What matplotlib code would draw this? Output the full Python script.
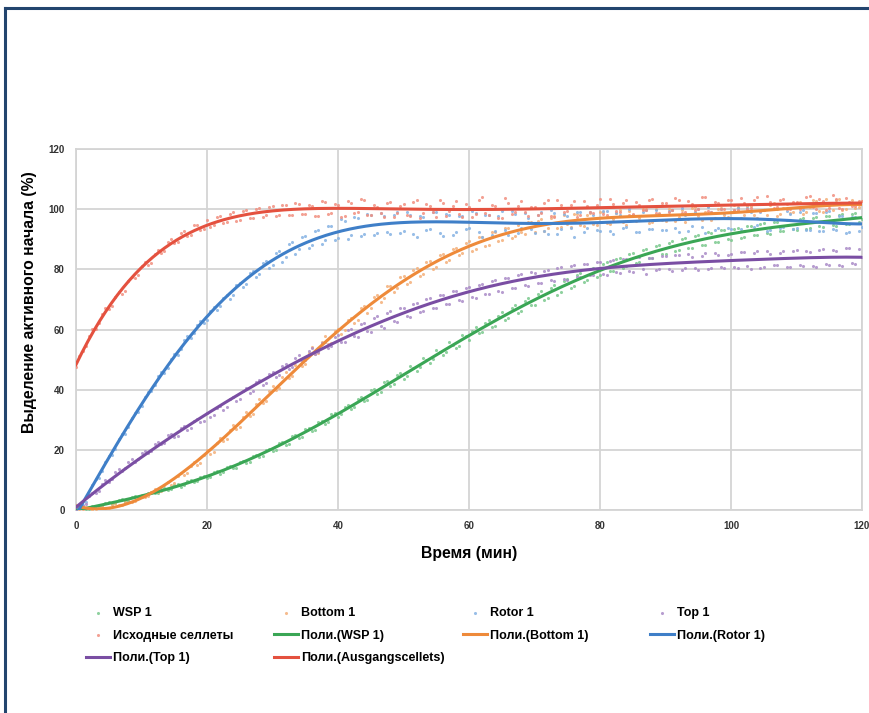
import numpy as np
import matplotlib
matplotlib.use("Agg")
import matplotlib.pyplot as plt
from matplotlib.lines import Line2D

plt.rcParams['font.family'] = ['Liberation Sans', 'DejaVu Sans']

# ---------------- data ----------------
time_min = np.arange(0, 121, 1)          # readings on the full minute
time_half = np.arange(0.5, 120, 1)       # readings on the half minute

wsp1 = [
    0.1, 0.5, 0.4, 1.4, 1.2, 2.5, 2.2, 3.6, 3.0, 4.6,
    4.2, 5.8, 5.5, 6.9, 6.7, 8.2, 7.8, 9.7, 9.3, 11.1,
    10.6, 12.6, 12.1, 14.3, 13.8, 16.1, 15.6, 18.1, 17.5, 20.1,
    19.5, 22.3, 21.6, 24.6, 23.8, 26.9, 26.2, 29.3, 28.5, 31.8,
    30.9, 34.4, 33.6, 37.0, 36.3, 39.8, 38.5, 42.5, 41.1, 45.0,
    43.6, 47.9, 46.3, 50.6, 48.8, 53.3, 51.5, 55.8, 53.9, 58.2,
    56.6, 60.8, 59.1, 63.2, 61.0, 65.9, 63.7, 68.1, 66.2, 70.6,
    68.1, 72.8, 70.4, 74.9, 72.3, 76.8, 74.6, 78.9, 76.4, 80.5,
    78.1, 82.3, 79.6, 83.9, 81.2, 85.3, 82.6, 86.8, 83.9, 88.0,
    85.1, 89.3, 86.4, 90.4, 87.2, 91.5, 88.1, 92.2, 89.0, 93.0,
    89.8, 93.8, 90.6, 94.5, 91.4, 95.3, 91.9, 95.8, 92.6, 96.4,
    93.0, 96.9, 93.6, 97.4, 94.0, 97.8, 94.5, 98.3, 95.0, 98.6, 96.8,
]
wsp1_half = [
    0.6, 0.2, 1.3, 0.9, 2.3, 1.9, 3.3, 2.6, 4.4, 4.0,
    4.6, 6.0, 5.8, 7.3, 6.9, 8.5, 8.2, 10.0, 9.6, 11.4,
    11.0, 12.9, 12.6, 14.6, 14.1, 16.4, 16.0, 18.3, 18.1, 20.4,
    20.0, 22.6, 22.1, 24.9, 24.4, 27.3, 26.7, 29.6, 29.3, 32.2,
    31.8, 34.8, 34.2, 37.6, 36.7, 40.2, 39.1, 42.9, 41.8, 45.6,
    44.5, 47.1, 47.6, 49.8, 50.2, 52.5, 52.6, 54.9, 54.6, 57.8,
    59.6, 58.7, 62.3, 60.9, 64.5, 63.0, 67.1, 65.6, 69.4, 68.1,
    71.8, 69.9, 73.9, 71.6, 76.0, 73.8, 78.1, 75.9, 80.0, 77.6,
    81.7, 79.3, 83.4, 80.6, 85.0, 82.0, 86.5, 83.7, 87.9, 85.0,
    88.9, 86.0, 90.1, 87.0, 91.2, 88.1, 92.3, 89.2, 93.0, 90.0,
    93.4, 90.4, 94.3, 91.5, 95.0, 92.2, 95.8, 92.9, 96.3, 93.4,
    96.6, 93.5, 97.2, 94.3, 97.6, 94.8, 98.2, 95.1, 98.4, 95.7,
]

bottom1 = [
    0.6, -0.2, 0.9, 0.2, 1.4, 0.8, 2.3, 1.7, 3.5, 3.0,
    5.0, 4.6, 6.9, 6.4, 9.2, 9.0, 12.4, 12.3, 15.9, 15.7,
    19.8, 19.4, 24.0, 23.5, 28.1, 27.6, 32.5, 32.0, 37.0, 36.2,
    41.3, 40.6, 45.9, 44.7, 50.0, 48.4, 54.1, 52.2, 57.9, 55.6,
    60.2, 59.8, 63.9, 63.1, 67.8, 67.2, 71.4, 70.6, 74.5, 73.9,
    77.8, 75.9, 80.3, 78.6, 82.7, 80.9, 85.1, 83.2, 87.2, 85.5,
    89.4, 86.9, 90.8, 88.2, 92.5, 89.6, 93.8, 91.0, 92.4, 95.6,
    92.3, 96.7, 93.8, 97.6, 94.0, 95.1, 98.3, 94.6, 97.9, 95.2,
    98.9, 95.4, 96.8, 99.6, 94.9, 98.2, 97.1, 100.0, 95.6, 98.8,
    96.1, 99.7, 97.4, 95.8, 100.4, 97.6, 99.1, 96.3, 100.2, 97.9,
    96.9, 100.6, 98.2, 101.1, 97.0, 99.7, 101.5, 97.8, 100.3, 98.6,
    101.9, 98.4, 100.7, 102.6, 99.0, 101.3, 103.0, 99.6, 102.1, 100.4, 102.8,
]
bottom1_half = [
    -0.3, 0.6, 0.1, 1.1, 0.6, 1.9, 1.5, 3.0, 2.7, 4.4,
    4.3, 6.1, 6.1, 8.3, 8.4, 11.2, 11.5, 14.6, 15.0, 18.3,
    18.7, 22.4, 22.8, 26.6, 26.8, 31.0, 31.2, 35.4, 35.5, 39.7,
    39.9, 44.1, 44.0, 48.3, 47.9, 52.3, 51.7, 56.0, 55.2, 59.6,
    58.4, 63.2, 62.0, 67.1, 65.6, 70.9, 69.0, 74.3, 72.4, 77.4,
    75.2, 79.9, 77.8, 82.6, 80.1, 84.9, 82.5, 86.9, 84.6, 88.9,
    86.1, 90.6, 87.9, 92.4, 89.4, 93.7, 90.5, 94.8, 91.6, 95.7,
    96.2, 92.8, 97.1, 93.6, 97.9, 94.0, 98.3, 94.4, 98.7, 94.9,
    99.0, 95.1, 98.6, 95.7, 99.5, 96.0, 99.9, 95.5, 100.1, 96.3,
    100.2, 96.0, 99.6, 96.8, 100.8, 96.4, 101.0, 97.1, 100.5, 97.5,
    101.3, 97.2, 100.9, 97.9, 101.8, 98.1, 102.0, 98.5, 101.6, 98.9,
    102.4, 99.0, 102.9, 99.4, 103.3, 99.8, 103.5, 100.2, 103.1, 100.6,
]

rotor1 = [
    0.3, 1.8, 5.0, 10.2, 13.0, 17.8, 20.4, 25.3, 27.5, 32.4,
    34.6, 39.3, 41.4, 45.8, 47.2, 51.9, 53.6, 57.8, 58.9, 62.9,
    63.1, 67.6, 67.8, 71.6, 71.6, 75.6, 75.2, 79.5, 78.6, 82.9,
    81.4, 86.2, 84.1, 89.0, 86.6, 91.1, 88.2, 93.0, 89.6, 94.3,
    90.4, 96.1, 91.5, 97.2, 91.9, 98.0, 92.0, 97.8, 91.6, 99.0,
    92.8, 98.2, 90.6, 97.4, 93.5, 99.1, 91.2, 98.0, 92.4, 97.6,
    93.6, 98.8, 90.9, 97.9, 92.7, 99.5, 91.4, 98.3, 93.9, 97.0,
    92.2, 99.0, 91.8, 98.6, 93.3, 97.7, 90.8, 99.2, 93.7, 98.1,
    92.9, 99.4, 91.6, 98.2, 94.0, 97.9, 92.3, 99.6, 93.4, 98.5,
    93.1, 99.8, 92.5, 98.0, 94.4, 100.1, 92.0, 99.0, 93.8, 98.7,
    93.5, 100.3, 92.8, 99.2, 94.6, 99.6, 93.0, 100.0, 94.2, 98.4,
    93.9, 99.7, 93.2, 98.8, 92.6, 99.4, 93.0, 97.6, 92.4, 97.3, 94.0,
]
rotor1_half = [
    1.2, 2.8, 8.3, 10.8, 16.1, 18.2, 23.6, 25.4, 30.5, 32.6,
    37.5, 39.4, 44.4, 45.7, 50.3, 51.6, 56.4, 57.3, 61.6, 62.1,
    66.3, 66.4, 70.6, 70.3, 74.8, 74.1, 78.7, 77.6, 82.1, 80.5,
    85.3, 82.6, 88.5, 85.1, 90.6, 87.0, 92.8, 88.4, 94.4, 89.7,
    96.6, 90.1, 97.4, 91.0, 98.3, 91.4, 98.6, 92.3, 97.9, 92.0,
    98.9, 91.7, 97.6, 93.0, 99.2, 92.1, 98.4, 91.4, 97.8, 93.5,
    99.3, 92.3, 98.0, 91.5, 97.7, 93.0, 99.5, 92.0, 98.6, 93.4,
    98.2, 92.8, 99.6, 91.9, 98.5, 93.6, 99.1, 92.5, 98.9, 93.2,
    99.3, 92.6, 98.7, 93.9, 100.2, 92.4, 99.0, 93.5, 99.8, 93.1,
    99.5, 93.7, 100.4, 92.8, 99.2, 94.1, 100.6, 93.0, 99.9, 93.6,
    99.8, 93.3, 100.5, 94.0, 99.0, 92.9, 100.2, 93.8, 99.4, 93.5,
    99.1, 93.1, 98.6, 92.8, 98.9, 93.4, 97.8, 92.1, 97.5, 92.6,
]

top1 = [
    0.2, 1.2, 4.6, 5.5, 8.8, 9.4, 12.5, 12.9, 16.0, 16.1,
    19.0, 18.9, 21.9, 22.0, 24.8, 24.3, 27.3, 26.6, 29.5, 29.1,
    32.1, 31.5, 34.7, 34.1, 37.5, 36.9, 40.5, 39.7, 43.1, 42.2,
    46.0, 44.9, 48.6, 47.5, 51.4, 50.0, 53.8, 52.6, 55.9, 54.6,
    58.2, 55.7, 60.1, 57.6, 62.3, 59.2, 64.4, 60.6, 66.0, 62.4,
    67.3, 64.2, 68.9, 66.1, 70.4, 67.0, 71.6, 68.4, 72.9, 69.6,
    74.0, 70.6, 75.2, 71.8, 76.3, 72.6, 77.2, 73.9, 78.3, 74.5,
    78.9, 75.4, 79.8, 76.2, 80.7, 76.6, 81.3, 77.4, 81.7, 78.0,
    82.6, 78.1, 83.0, 78.9, 83.5, 79.2, 84.1, 78.6, 83.8, 80.0,
    84.4, 79.6, 84.9, 80.3, 84.2, 79.8, 85.3, 80.5, 84.6, 80.6,
    85.2, 80.4, 85.6, 80.1, 86.0, 80.9, 85.1, 81.3, 86.2, 80.8,
    86.4, 81.2, 85.9, 80.7, 86.8, 81.5, 86.1, 81.0, 87.0, 81.8, 84.2,
]
top1_half = [
    1.3, 2.1, 5.8, 6.4, 9.9, 10.2, 13.6, 13.8, 16.9, 16.8,
    19.7, 19.5, 22.6, 22.4, 25.3, 24.7, 27.8, 27.1, 30.3, 29.6,
    30.8, 34.0, 33.4, 36.8, 36.2, 39.6, 38.8, 42.5, 41.7, 45.2,
    44.3, 47.9, 46.9, 50.5, 49.4, 53.0, 51.9, 55.4, 54.0, 57.5,
    55.9, 59.9, 57.8, 61.9, 59.5, 63.8, 61.3, 65.6, 62.9, 67.2,
    64.4, 68.6, 65.9, 70.1, 67.2, 71.5, 68.6, 72.8, 69.8, 73.9,
    70.8, 74.9, 71.9, 76.1, 72.8, 77.2, 73.9, 78.0, 74.7, 79.1,
    75.5, 79.6, 76.3, 80.5, 76.9, 81.2, 77.5, 81.8, 78.1, 82.4,
    78.6, 82.9, 79.0, 83.6, 79.5, 84.0, 80.0, 83.8, 79.9, 84.3,
    80.1, 84.7, 79.7, 85.1, 80.6, 84.5, 80.2, 85.4, 80.9, 84.8,
    80.7, 85.6, 81.0, 85.3, 80.4, 86.1, 81.4, 85.4, 80.9, 86.0,
    81.6, 86.2, 81.1, 86.5, 81.9, 86.3, 81.3, 87.1, 82.0, 86.6,
]

ausgang = [
    47.5, 52.8, 58.0, 60.2, 65.1, 66.8, 70.9, 71.8, 76.0, 77.0,
    81.2, 81.3, 85.0, 85.4, 89.2, 88.6, 92.0, 91.1, 94.6, 93.0,
    96.4, 94.8, 97.6, 95.6, 98.9, 96.5, 99.7, 97.2, 100.3, 98.0,
    100.9, 98.1, 101.3, 98.2, 101.6, 98.5, 101.2, 97.8, 102.5, 98.6,
    101.4, 97.6, 102.0, 98.9, 103.2, 98.1, 100.8, 97.4, 102.3, 98.6,
    101.6, 97.7, 103.1, 98.6, 100.9, 97.3, 101.9, 99.4, 102.8, 97.5,
    100.6, 98.4, 104.0, 97.9, 101.2, 96.9, 102.1, 99.0, 102.6, 97.6,
    100.7, 98.8, 103.2, 97.5, 101.4, 99.4, 102.6, 98.0, 101.0, 98.6,
    103.3, 98.2, 101.6, 99.2, 102.9, 98.5, 101.5, 99.8, 103.4, 98.4,
    102.0, 99.6, 102.9, 99.1, 101.6, 100.2, 104.0, 99.0, 102.2, 100.0,
    103.1, 99.6, 101.9, 100.4, 104.2, 99.7, 102.4, 100.6, 103.3, 99.9,
    102.3, 100.8, 104.5, 100.2, 102.7, 100.5, 103.5, 100.1, 102.4, 101.0, 102.6,
]
ausgang_half = [
    51.3, 54.5, 60.1, 62.0, 67.2, 67.9, 72.4, 72.9, 77.5, 78.0,
    82.3, 82.1, 86.4, 86.0, 90.1, 89.2, 92.8, 91.5, 94.9, 93.4,
    94.2, 97.3, 95.5, 98.4, 96.1, 99.3, 96.9, 100.0, 97.4, 100.6,
    97.7, 101.4, 98.0, 102.0, 98.3, 101.5, 97.6, 102.6, 98.5, 101.8,
    97.3, 102.7, 98.6, 103.5, 97.9, 101.4, 98.8, 102.0, 97.5, 100.9,
    98.2, 102.4, 97.0, 101.7, 99.1, 103.0, 97.8, 101.2, 98.4, 101.6,
    97.4, 102.9, 98.7, 101.3, 97.2, 103.8, 98.5, 101.0, 99.2, 100.6,
    98.0, 102.2, 97.6, 103.0, 98.9, 101.5, 97.3, 102.8, 99.0, 101.4,
    98.4, 103.4, 99.3, 101.9, 98.1, 102.5, 99.6, 103.1, 98.8, 102.2,
    99.2, 103.6, 98.7, 102.8, 99.8, 104.1, 99.3, 102.4, 100.0, 103.0,
    99.6, 103.8, 100.1, 102.9, 99.4, 104.4, 100.3, 103.1, 99.9, 102.5,
    100.2, 104.0, 100.6, 103.3, 99.8, 104.7, 100.4, 103.6, 100.9, 102.8,
]

series_names = ["WSP 1", "Bottom 1", "Rotor 1", "Top 1", "Исходные селлеты"]
trend_names = ["Поли.(WSP 1)", "Поли.(Bottom 1)", "Поли.(Rotor 1)",
               "Поли.(Top 1)", "Поли.(Ausgangscellets)"]
x_ticks = [0, 20, 40, 60, 80, 100, 120]
y_ticks = [0, 20, 40, 60, 80, 100, 120]

# ---------------- style ----------------
line_colors = ["#3aa655", "#ee8a3a", "#3f7fc8", "#7a4ea3", "#e4513f"]
point_colors = ["#7cc98e", "#f4b07a", "#86b3e3", "#ab8cc8", "#f19080"]

fig = plt.figure(figsize=(8.69, 7.13), dpi=100)
ax = fig.add_axes([76 / 869, 1 - 510 / 713, (862 - 76) / 869, (510 - 149) / 713])

full_series = [wsp1, bottom1, rotor1, top1, ausgang]
half_series = [wsp1_half, bottom1_half, rotor1_half, top1_half, ausgang_half]
t_all = np.concatenate([time_min, time_half])

scatter_handles = []
line_handles = []
t_fine = np.linspace(0, 120, 400)
for vals, hvals, name, pc in zip(full_series, half_series, series_names,
                                 point_colors):
    v_all = np.concatenate([np.asarray(vals), np.asarray(hvals)])
    sc = ax.scatter(t_all, v_all, s=5, color=pc, alpha=0.85, linewidths=0,
                    zorder=3, label=name)
    scatter_handles.append(sc)
for vals, hvals, tname, lc in zip(full_series, half_series, trend_names,
                                  line_colors):
    v_all = np.concatenate([np.asarray(vals), np.asarray(hvals)])
    coef = np.polyfit(t_all, v_all, 6)          # Excel polynomial trendline
    ln, = ax.plot(t_fine, np.polyval(coef, t_fine), color=lc, lw=2.2,
                  zorder=4, label=tname)
    line_handles.append(ln)

ax.set_xlim(0, 120)
ax.set_ylim(0, 120)
ax.set_xticks(x_ticks)
ax.set_yticks(y_ticks)
ax.grid(True, color="#d4d4d4", lw=1.3)
ax.set_axisbelow(True)
for sp in ax.spines.values():
    sp.set_color("#d4d4d4")
    sp.set_linewidth(1.3)
ax.tick_params(length=0, labelsize=7, labelcolor="#333333", pad=8)
for lab in ax.get_xticklabels() + ax.get_yticklabels():
    lab.set_fontweight("bold")

ax.set_xlabel("Время (мин)", fontsize=11.3, fontweight="bold", labelpad=11)
ax.set_ylabel("Выделение активного начала (%)", fontsize=11.3,
              fontweight="bold")
ax.yaxis.set_label_coords(-0.05, 0.576)

# legend: four equal-width columns, row-major order like Excel
cols = [
    [scatter_handles[0], scatter_handles[4], line_handles[3]],
    [scatter_handles[1], line_handles[0], line_handles[4]],
    [scatter_handles[2], line_handles[1]],
    [scatter_handles[3], line_handles[2]],
]
col_x = [86, 274, 463, 650]
for hs, cx in zip(cols, col_x):
    fig.legend(handles=hs, labels=[h.get_label() for h in hs],
               loc="upper left", bbox_to_anchor=(cx / 869, 1 - 607 / 713),
               frameon=False, ncol=1, handlelength=1.9,
               handletextpad=0.25, labelspacing=0.85, borderpad=0,
               borderaxespad=0, prop={"weight": "bold", "size": 9})

# frame lines of the original panel
fig.add_artist(Line2D([5 / 869, 5 / 869], [0, 1 - 8 / 713],
                      transform=fig.transFigure, color="#23456e", lw=2.2))
fig.add_artist(Line2D([5 / 869, 1], [1 - 8 / 713, 1 - 8 / 713],
                      transform=fig.transFigure, color="#23456e", lw=2.2))

fig.savefig("out.png", dpi=100)
